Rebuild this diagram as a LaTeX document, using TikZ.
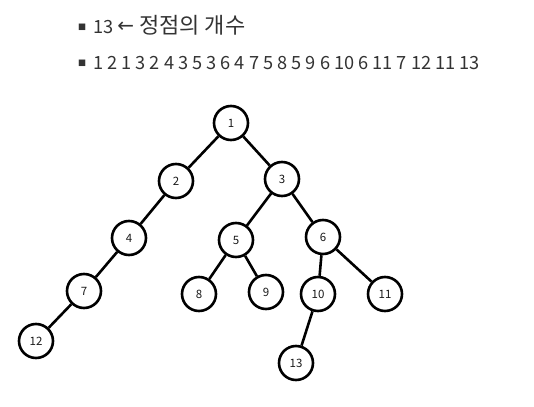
\documentclass[tikz,border=0pt]{standalone}
\usepackage{fontspec}
\usepackage{tikz}
\usetikzlibrary{positioning}
\setmainfont{Noto Sans CJK KR}
\newfontfamily\symfont{DejaVu Sans}
\definecolor{tink}{HTML}{1A1A1A}
\definecolor{tgrey}{HTML}{333333}
\newcommand{\sqbul}{\raisebox{4pt}{\symfont\fontsize{8.5}{10}\selectfont ■}\hspace{7pt}}
\tikzset{
  vtx/.style={circle, draw=black, fill=white, line width=2.6pt, minimum size=34pt,
              inner sep=0pt, text=tink, font=\fontsize{11.5}{12}\selectfont},
  edge/.style={draw=black, line width=2.6pt},
  bul/.style={anchor=base west, text=tgrey, inner sep=0pt, font=\fontsize{18.2}{20}\selectfont}
}

\begin{document}
\begin{tikzpicture}[x=1pt, y=-1pt]
  \useasboundingbox (0,0) rectangle (534,406);
  \node[bul] (head) at (78,34) {\sqbul 13\hspace{4pt}\raisebox{1pt}{\symfont\fontsize{20}{22}\selectfont ←}\hspace{5pt}{\fontsize{22}{24}\selectfont 정점의 개수}};
  \node[bul] (seq) at (78,70) {\sqbul 1 2 1 3 2 4 3 5 3 6 4 7 5 8 5 9 6 10 6 11 7 12 11 13};

  \node[vtx] (v1) at (231,123) {1};
  \node[vtx] (v2) at (176,181) {2};
  \node[vtx] (v3) at (282,179) {3};
  \node[vtx] (v4) at (129,238) {4};
  \node[vtx] (v5) at (236,240) {5};
  \node[vtx] (v6) at (323,237) {6};
  \node[vtx] (v7) at (84,291) {7};
  \node[vtx] (v8) at (199,294) {8};
  \node[vtx] (v9) at (266,292) {9};
  \node[vtx] (v10) at (318,294) {10};
  \node[vtx] (v11) at (385,294) {11};
  \node[vtx] (v12) at (36,341) {12};
  \node[vtx] (v13) at (296,363) {13};

  \draw[edge] (v1) -- (v2);
  \draw[edge] (v1) -- (v3);
  \draw[edge] (v2) -- (v4);
  \draw[edge] (v3) -- (v5);
  \draw[edge] (v3) -- (v6);
  \draw[edge] (v4) -- (v7);
  \draw[edge] (v5) -- (v8);
  \draw[edge] (v5) -- (v9);
  \draw[edge] (v6) -- (v10);
  \draw[edge] (v6) -- (v11);
  \draw[edge] (v7) -- (v12);
  \draw[edge] (v10) -- (v13);
\end{tikzpicture}
\end{document}
